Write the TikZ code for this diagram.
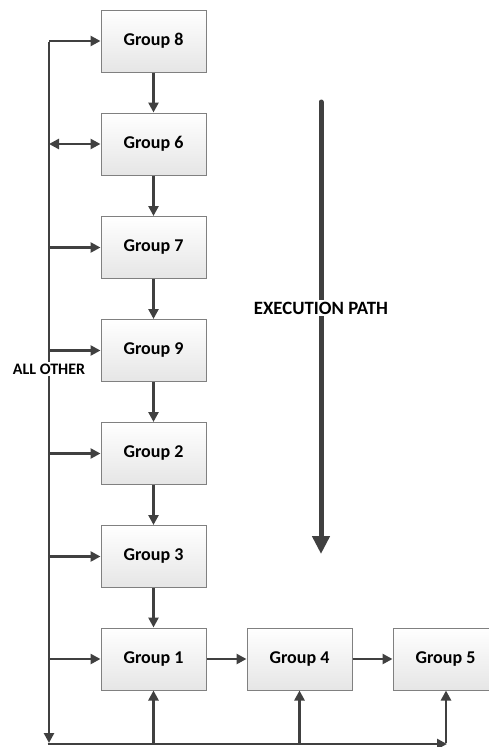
\documentclass[tikz,border=0pt]{standalone}
\usepackage{fontspec}
\setmainfont{Carlito}
\usetikzlibrary{arrows.meta}
\definecolor{ink}{HTML}{404040}
\definecolor{frame}{HTML}{808080}
\tikzset{
  grp/.style={draw=frame, line width=1pt, top color=white, bottom color=black!10,
    minimum width=105pt, minimum height=62pt, inner sep=0pt,
    font=\fontsize{18}{21}\selectfont\bfseries, text=black},
  arr/.style={draw=ink, line width=2.7pt, -{Triangle[length=10pt,width=10pt]}},
  biarr/.style={draw=ink, line width=2.7pt, {Triangle[length=10pt,width=10pt]}-{Triangle[length=10pt,width=10pt]}},
  lbl/.style={fill=white, inner sep=2pt, font=\fontsize{18.8}{21}\selectfont\bfseries, text=black}
}
\begin{document}
\begin{tikzpicture}[x=1pt,y=-1pt]
\useasboundingbox (0,0) rectangle (488,747);

% processing groups, main column
\node[grp] (g8) at (153.5,41) {Group 8};
\node[grp] (g6) at (153.5,144) {Group 6};
\node[grp] (g7) at (153.5,247.5) {Group 7};
\node[grp] (g9) at (153.5,350.5) {Group 9};
\node[grp] (g2) at (153.5,453.5) {Group 2};
\node[grp] (g3) at (153.5,556.5) {Group 3};
\node[grp] (g1) at (153.5,659) {Group 1};
\node[grp] (g4) at (299.5,659) {Group 4};
\node[grp] (g5) at (445.5,659) {Group 5};

% bus coordinates
\coordinate (bt) at (49,41);
\coordinate (bb) at (49,743);
\coordinate (r6) at (49,144);
\coordinate (r7) at (49,247.5);
\coordinate (r9) at (49,350.5);
\coordinate (r2) at (49,453.5);
\coordinate (r3) at (49,556.5);
\coordinate (r1) at (49,659);
\coordinate (hl) at (47.7,744);
\coordinate (hr) at (447,744);
\coordinate (u1) at (153.5,744);
\coordinate (u4) at (299.5,744);
\coordinate (u5) at (446,744);

% left bus with its branches
\draw[arr] (bt) -- (g8);
\draw[arr] ([yshift=-1.35pt]bt) -- (bb);
\draw[biarr] (r6) -- (g6);
\draw[arr] (r7) -- (g7);
\draw[arr] (r9) -- (g9);
\draw[arr] (r2) -- (g2);
\draw[arr] (r3) -- (g3);
\draw[arr] (r1) -- (g1);

% bottom bus
\draw[arr] (hl) -- (hr);
\draw[arr] (u1) -- (g1);
\draw[arr] (u4) -- (g4);
\draw[arr] ([yshift=1.35pt]u5) -- ([xshift=0.5pt]g5.south);

% execution chain
\draw[arr] (g8) -- (g6);
\draw[arr] (g6) -- (g7);
\draw[arr] (g7) -- (g9);
\draw[arr] (g9) -- (g2);
\draw[arr] (g2) -- (g3);
\draw[arr] (g3) -- (g1);
\draw[arr] (g1) -- (g4);
\draw[arr] (g4) -- (g5);

% execution path indicator
\coordinate (ea) at (321,102);
\coordinate (eb) at (321,554);
\draw[draw=ink, line width=5pt, line cap=round, -{Triangle[length=18pt,width=17pt]}] (ea) -- (eb);
\node[lbl] (ep) at (321,308) {EXECUTION PATH};

\node[lbl, font=\fontsize{16}{19}\selectfont\bfseries, inner sep=1.5pt] (ao) at (49,369) {ALL OTHER};
\end{tikzpicture}
\end{document}
